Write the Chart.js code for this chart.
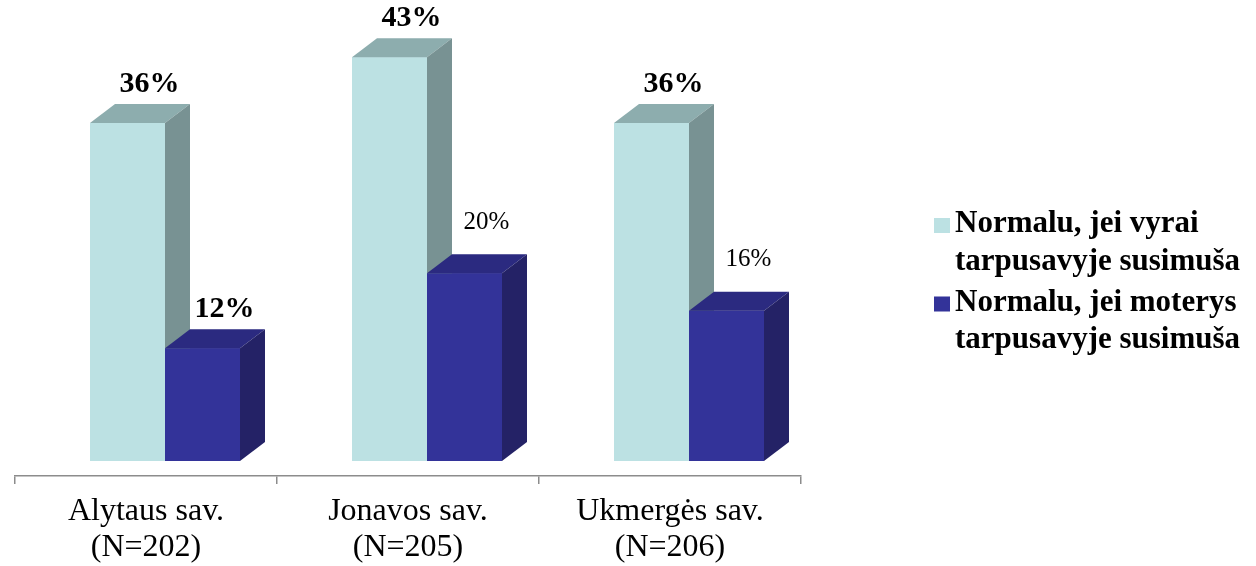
<!DOCTYPE html>
<html>
<head>
<meta charset="utf-8">
<script src="https://cdn.jsdelivr.net/npm/chart.js@4/dist/chart.umd.min.js"></script>
<style>
  html, body { margin: 0; padding: 0; background: #fff; }
  #wrap { width: 1256px; height: 566px; }
</style>
</head>
<body>
<div id="wrap"><canvas id="chart" width="1256" height="566"></canvas></div>
<script>
// duomenys
const categories = ['Alytaus sav.', 'Jonavos sav.', 'Ukmergės sav.'];
const sampleSizes = [202, 205, 206];
const seriesNames = ['Normalu, jei vyrai tarpusavyje susimuša', 'Normalu, jei moterys tarpusavyje susimuša'];
const menValues = [36, 43, 36];
const womenValues = [12, 20, 16];
// which value labels are bold in the original
const boldLabels = [[true, true, true], [true, false, false]];

// 3D look
const depth = { dx: 25, dy: 19 };
const shift = { x: 19, y: -15 };
const faceColors = [
	{ front: '#BCE1E3', top: '#8DADAE', side: '#789293' },
	{ front: '#333399', top: '#2B2A80', side: '#242266' }
];
const serif = '"Liberation Serif", "Times New Roman", serif';

function poly(ctx, pts, color) {
	ctx.beginPath();
	ctx.moveTo(pts[0][0], pts[0][1]);
	for (let i = 1; i < pts.length; i++) ctx.lineTo(pts[i][0], pts[i][1]);
	ctx.closePath();
	ctx.fillStyle = color;
	ctx.fill();
}

// bars are drawn by the library, moved back by the 3D depth, then
// redrawn in series order with top and side faces so overlaps are right
const bars3d = {
	id: 'bars3d',
	beforeDatasetsDraw(chart) {
		chart.ctx.save();
		chart.ctx.translate(shift.x, shift.y);
	},
	afterDatasetsDraw(chart) {
		const ctx = chart.ctx;
		chart.data.datasets.forEach(function(ds, di) {
			const c = faceColors[di];
			chart.getDatasetMeta(di).data.forEach(function(bar) {
				bar.draw(ctx);
				const p = bar.getProps(['x', 'y', 'width', 'base'], true);
				const x1 = p.x - p.width / 2, x2 = p.x + p.width / 2;
				poly(ctx, [[x1, p.y], [x1 + depth.dx, p.y - depth.dy], [x2 + depth.dx, p.y - depth.dy], [x2, p.y]], c.top);
				poly(ctx, [[x2, p.y], [x2 + depth.dx, p.y - depth.dy], [x2 + depth.dx, p.base - depth.dy], [x2, p.base]], c.side);
			});
		});
		ctx.restore();
	}
};

const valueLabels = {
	id: 'valueLabels',
	afterDraw(chart) {
		const ctx = chart.ctx;
		ctx.save();
		ctx.textAlign = 'center';
		ctx.textBaseline = 'middle';
		ctx.fillStyle = '#000';
		chart.data.datasets.forEach(function(ds, di) {
			chart.getDatasetMeta(di).data.forEach(function(bar, i) {
				const bold = boldLabels[di][i];
				ctx.font = bold ? 'bold 30px ' + serif : '25px ' + serif;
				ctx.fillText(ds.data[i] + '%', bar.x + shift.x + 22, bar.y + shift.y - (bold ? 39 : 51));
			});
		});
		ctx.restore();
	}
};

const sideLegend = {
	id: 'sideLegend',
	afterDraw(chart) {
		const ctx = chart.ctx;
		ctx.save();
		ctx.font = 'bold 31px ' + serif;
		ctx.textBaseline = 'alphabetic';
		ctx.textAlign = 'left';
		chart.data.datasets.forEach(function(ds, di) {
			const top = 218 + di * 78.5;
			ctx.fillStyle = faceColors[di].front;
			ctx.fillRect(934, top, 16, 15);
			// wrap the name
			const words = ds.label.split(' ');
			const lines = [];
			let line = '';
			words.forEach(function(w) {
				const test = line ? line + ' ' + w : w;
				if (ctx.measureText(test).width > 300 && line) { lines.push(line); line = w; }
				else line = test;
			});
			lines.push(line);
			ctx.fillStyle = '#000';
			lines.forEach(function(l, li) {
				ctx.fillText(l, 955, top + 14 + li * 37.5);
			});
		});
		ctx.restore();
	}
};

var chartArea = document.getElementById('chart').getContext('2d');
var myChart = new Chart(chartArea, {
	type: 'bar',
	data: {
		labels: categories.map(function(c, i) { return [c, '(N=' + sampleSizes[i] + ')']; }),
		datasets: [{
			label: seriesNames[0],
			data: menValues,
			backgroundColor: faceColors[0].front,
			borderWidth: 0,
			clip: false
		}, {
			label: seriesNames[1],
			data: womenValues,
			backgroundColor: faceColors[1].front,
			borderWidth: 0,
			clip: false
		}]
	},
	options: {
		responsive: false,
		animation: false,
		devicePixelRatio: 1,
		events: [],
		layout: { padding: { left: 15, right: 455, top: 6.5, bottom: 0 } },
		datasets: { bar: { categoryPercentage: 150 / 262, barPercentage: 1 } },
		scales: {
			x: {
				afterFit: function(scale) { scale.height = 90; },
				grid: { drawOnChartArea: false, drawTicks: true, tickLength: 8, color: '#8c8c8c', lineWidth: 1.5 },
				border: { display: true, color: '#8c8c8c', width: 1.5 },
				ticks: {
					color: '#000',
					padding: 9,
					maxRotation: 0,
					autoSkip: false,
					font: { family: serif, size: 32, lineHeight: 1.14 }
				}
			},
			y: {
				display: false,
				min: 0,
				max: 50
			}
		},
		plugins: {
			legend: { display: false },
			tooltip: { enabled: false }
		}
	},
	plugins: [bars3d, valueLabels, sideLegend]
});
</script>
</body>
</html>
